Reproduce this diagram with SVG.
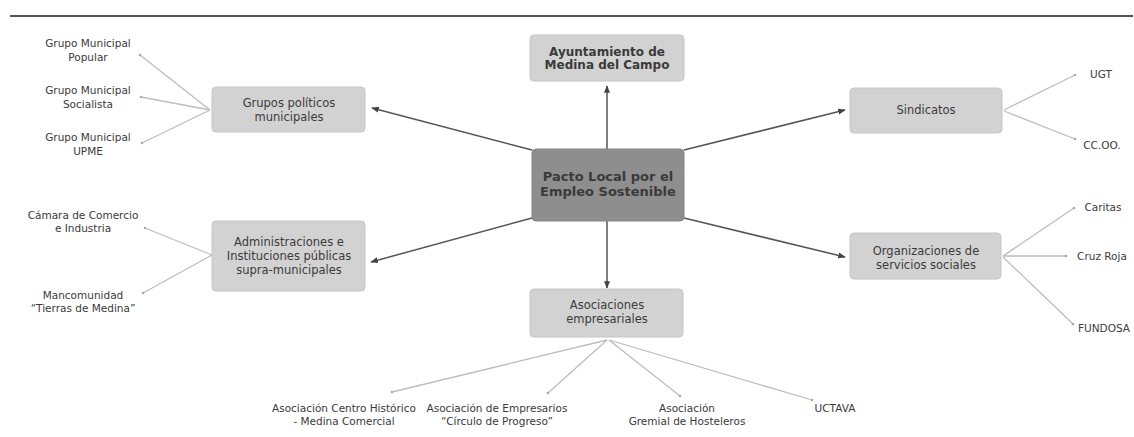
<svg xmlns="http://www.w3.org/2000/svg" width="1134" height="437" viewBox="0 0 1134 437">
<style>
text{font-family:"DejaVu Sans",Verdana,sans-serif;fill:#3a3a3a;text-anchor:middle}
.box{fill:#d2d2d2;stroke:#c6c6c6;stroke-width:1}
.bt{font-size:11.5px}
.lt{font-size:10.5px}
.main{stroke:#555;stroke-width:1.5;fill:none;marker-end:url(#ah)}
.leaf{stroke:#bdbdbd;stroke-width:1.3;fill:none;marker-end:url(#dot)}
</style>
<defs>
<marker id="ah" viewBox="0 0 10 10" refX="9" refY="5" markerWidth="5" markerHeight="5" orient="auto"><path d="M0,1 L10,5 L0,9 z" fill="#444"/></marker>
<marker id="dot" viewBox="0 0 4 4" refX="2" refY="2" markerWidth="2.5" markerHeight="2.5"><circle cx="2" cy="2" r="1.6" fill="#aaa"/></marker>
</defs>
<rect width="1134" height="437" fill="#fff"/>
<line x1="10" y1="16" x2="1133" y2="16" stroke="#555" stroke-width="2"/>
<g id="connectors">
<line class="main" x1="607" y1="149" x2="607" y2="86"/>
<line class="main" x1="532" y1="150" x2="372" y2="108"/>
<line class="main" x1="684" y1="150" x2="845" y2="110"/>
<line class="main" x1="532" y1="218" x2="371" y2="262"/>
<line class="main" x1="684" y1="218" x2="845" y2="257"/>
<line class="main" x1="607" y1="221" x2="607" y2="288"/>
<line class="leaf" x1="210" y1="110" x2="140" y2="55"/>
<line class="leaf" x1="210" y1="110" x2="141" y2="97"/>
<line class="leaf" x1="210" y1="110" x2="142" y2="143"/>
<line class="leaf" x1="212" y1="255" x2="145" y2="228"/>
<line class="leaf" x1="212" y1="255" x2="143" y2="293"/>
<line class="leaf" x1="1004" y1="110" x2="1075" y2="75"/>
<line class="leaf" x1="1004" y1="111" x2="1075" y2="139"/>
<line class="leaf" x1="1003" y1="256" x2="1074" y2="208"/>
<line class="leaf" x1="1003" y1="256" x2="1066" y2="256"/>
<line class="leaf" x1="1003" y1="257" x2="1073" y2="324"/>
<line class="leaf" x1="607" y1="340" x2="392" y2="392"/>
<line class="leaf" x1="607" y1="340" x2="548" y2="393"/>
<line class="leaf" x1="609" y1="340" x2="680" y2="396"/>
<line class="leaf" x1="609" y1="340" x2="812" y2="400"/>
</g>
<g id="ayuntamiento">
<rect class="box" x="530" y="35" width="154" height="46" rx="4"/>
<text x="607" y="56" font-size="12" font-weight="bold">Ayuntamiento de</text>
<text x="607" y="69" font-size="12" font-weight="bold">Medina del Campo</text>
</g>
<g id="pacto">
<rect x="532" y="149" width="152" height="72" rx="4" fill="#8e8e8e" stroke="#858585"/>
<text x="608" y="181" font-size="13" font-weight="bold" fill="#222">Pacto Local por el</text>
<text x="608" y="196" font-size="13" font-weight="bold" fill="#222">Empleo Sostenible</text>
</g>
<g id="grupos">
<rect class="box" x="212" y="87" width="153" height="45" rx="4"/>
<text class="bt" x="289" y="107">Grupos políticos</text>
<text class="bt" x="289" y="121">municipales</text>
</g>
<g id="sindicatos">
<rect class="box" x="850" y="88" width="152" height="45" rx="4"/>
<text class="bt" x="926" y="114">Sindicatos</text>
</g>
<g id="administraciones">
<rect class="box" x="212" y="221" width="153" height="70" rx="4"/>
<text class="bt" x="289" y="246">Administraciones e</text>
<text class="bt" x="289" y="260">Instituciones públicas</text>
<text class="bt" x="289" y="274">supra-municipales</text>
</g>
<g id="organizaciones">
<rect class="box" x="850" y="233" width="151" height="46" rx="4"/>
<text class="bt" x="926" y="255">Organizaciones de</text>
<text class="bt" x="926" y="269">servicios sociales</text>
</g>
<g id="asociaciones">
<rect class="box" x="530" y="289" width="153" height="48" rx="4"/>
<text class="bt" x="607" y="309">Asociaciones</text>
<text class="bt" x="607" y="323">empresariales</text>
</g>
<g id="gm-popular"><text class="lt" x="88" y="47">Grupo Municipal</text><text class="lt" x="88" y="61">Popular</text></g>
<g id="gm-socialista"><text class="lt" x="88" y="94">Grupo Municipal</text><text class="lt" x="88" y="108">Socialista</text></g>
<g id="gm-upme"><text class="lt" x="88" y="141">Grupo Municipal</text><text class="lt" x="88" y="155">UPME</text></g>
<g id="camara"><text class="lt" x="83" y="219">Cámara de Comercio</text><text class="lt" x="83" y="232">e Industria</text></g>
<g id="mancomunidad"><text class="lt" x="83" y="299">Mancomunidad</text><text class="lt" x="83" y="312">“Tierras de Medina”</text></g>
<g id="ugt"><text class="lt" x="1101" y="78">UGT</text></g>
<g id="ccoo"><text class="lt" x="1102" y="149">CC.OO.</text></g>
<g id="caritas"><text class="lt" x="1103" y="211">Caritas</text></g>
<g id="cruzroja"><text class="lt" x="1102" y="260">Cruz Roja</text></g>
<g id="fundosa"><text class="lt" x="1104" y="332">FUNDOSA</text></g>
<g id="centro-historico"><text class="lt" x="344" y="412">Asociación Centro Histórico</text><text class="lt" x="344" y="425">- Medina Comercial</text></g>
<g id="circulo"><text class="lt" x="497" y="412">Asociación de Empresarios</text><text class="lt" x="497" y="425">“Círculo de Progreso”</text></g>
<g id="hosteleros"><text class="lt" x="687" y="412">Asociación</text><text class="lt" x="687" y="425">Gremial de Hosteleros</text></g>
<g id="uctava"><text class="lt" x="835" y="412">UCTAVA</text></g>
</svg>
